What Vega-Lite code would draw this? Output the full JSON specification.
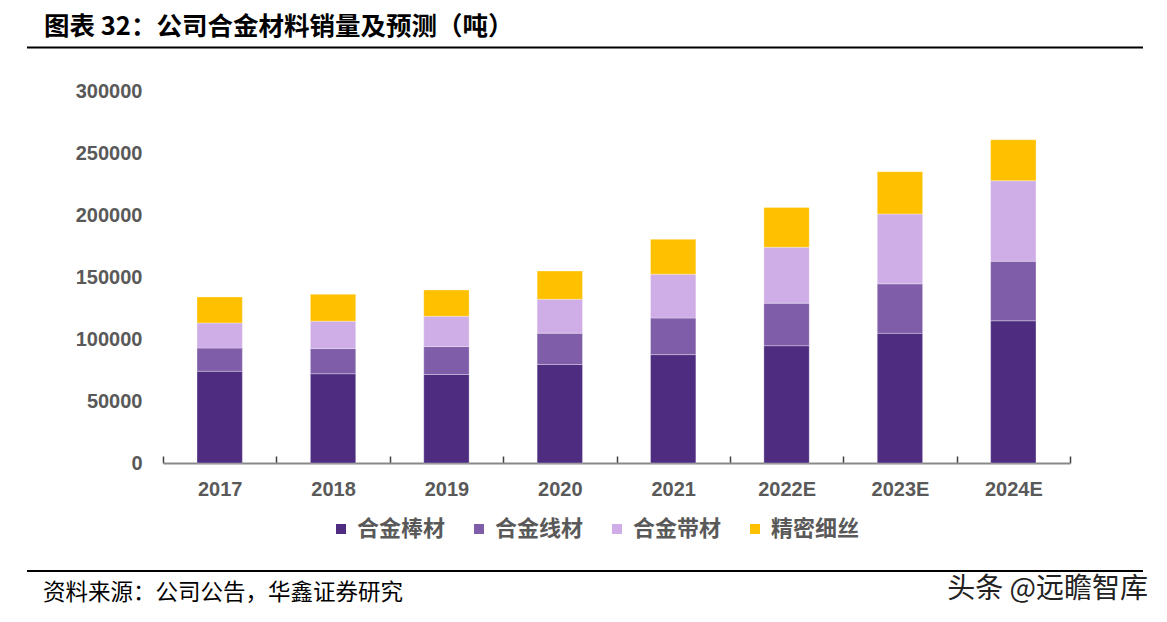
{
  "$schema": "https://vega.github.io/schema/vega-lite/v6.json",
  "autosize": "none",
  "width": 907,
  "height": 372,
  "padding": {"left": 163, "top": 91, "right": 97, "bottom": 159},
  "background": "white",
  "config": {"view": {"stroke": null}},
  "layer": [
    {
      "data": {"values": [
        {"year": "2017", "series": "合金棒材", "idx": 1, "value": 74000},
        {"year": "2017", "series": "合金线材", "idx": 2, "value": 18700},
        {"year": "2017", "series": "合金带材", "idx": 3, "value": 20300},
        {"year": "2017", "series": "精密细丝", "idx": 4, "value": 20900},
        {"year": "2018", "series": "合金棒材", "idx": 1, "value": 72000},
        {"year": "2018", "series": "合金线材", "idx": 2, "value": 20300},
        {"year": "2018", "series": "合金带材", "idx": 3, "value": 22100},
        {"year": "2018", "series": "精密细丝", "idx": 4, "value": 21700},
        {"year": "2019", "series": "合金棒材", "idx": 1, "value": 71400},
        {"year": "2019", "series": "合金线材", "idx": 2, "value": 22500},
        {"year": "2019", "series": "合金带材", "idx": 3, "value": 24500},
        {"year": "2019", "series": "精密细丝", "idx": 4, "value": 21100},
        {"year": "2020", "series": "合金棒材", "idx": 1, "value": 79500},
        {"year": "2020", "series": "合金线材", "idx": 2, "value": 25200},
        {"year": "2020", "series": "合金带材", "idx": 3, "value": 27400},
        {"year": "2020", "series": "精密细丝", "idx": 4, "value": 22700},
        {"year": "2021", "series": "合金棒材", "idx": 1, "value": 87400},
        {"year": "2021", "series": "合金线材", "idx": 2, "value": 29500},
        {"year": "2021", "series": "合金带材", "idx": 3, "value": 35400},
        {"year": "2021", "series": "精密细丝", "idx": 4, "value": 28100},
        {"year": "2022E", "series": "合金棒材", "idx": 1, "value": 94600},
        {"year": "2022E", "series": "合金线材", "idx": 2, "value": 34300},
        {"year": "2022E", "series": "合金带材", "idx": 3, "value": 45100},
        {"year": "2022E", "series": "精密细丝", "idx": 4, "value": 32100},
        {"year": "2023E", "series": "合金棒材", "idx": 1, "value": 104600},
        {"year": "2023E", "series": "合金线材", "idx": 2, "value": 39900},
        {"year": "2023E", "series": "合金带材", "idx": 3, "value": 56300},
        {"year": "2023E", "series": "精密细丝", "idx": 4, "value": 34100},
        {"year": "2024E", "series": "合金棒材", "idx": 1, "value": 114700},
        {"year": "2024E", "series": "合金线材", "idx": 2, "value": 48000},
        {"year": "2024E", "series": "合金带材", "idx": 3, "value": 64900},
        {"year": "2024E", "series": "精密细丝", "idx": 4, "value": 33000}
      ]},
      "mark": {"type": "bar", "width": {"band": 0.4}, "stroke": "#ffffff", "strokeWidth": 0.5, "strokeOpacity": 0.6},
      "encoding": {
        "x": {
          "field": "year", "type": "nominal", "sort": null,
          "scale": {"paddingInner": 0, "paddingOuter": 0},
          "axis": {
            "title": null, "labelAngle": 0, "tickBand": "extent",
            "domainColor": "#898989", "domainWidth": 2,
            "tickColor": "#404040", "tickWidth": 1.5, "tickSize": -7,
            "labelPadding": 23, "labelFont": "Liberation Sans", "labelFontSize": 20,
            "labelFontWeight": "bold", "labelColor": "#595959", "grid": false
          }
        },
        "y": {
          "aggregate": "sum", "field": "value", "type": "quantitative", "stack": "zero",
          "scale": {"domain": [0, 300000], "nice": false},
          "axis": {
            "title": null, "values": [0, 50000, 100000, 150000, 200000, 250000, 300000],
            "format": "d", "grid": false, "domain": false, "ticks": false,
            "labelPadding": 21, "labelFont": "Liberation Sans", "labelFontSize": 20,
            "labelFontWeight": "bold", "labelColor": "#595959"
          }
        },
        "color": {
          "field": "series", "type": "nominal",
          "scale": {
            "domain": ["合金棒材", "合金线材", "合金带材", "精密细丝"],
            "range": ["#4E2D80", "#7F5DA8", "#CFADE6", "#FFC000"]
          },
          "legend": {
            "title": null, "orient": "none", "legendX": 167, "legendY": 427,
            "direction": "horizontal", "columns": 4, "columnPadding": 22,
            "symbolType": "square", "symbolSize": 100, "symbolStrokeWidth": 0,
            "labelOffset": 5, "labelFont": "Noto Sans CJK SC", "labelFontSize": 22,
            "labelFontWeight": "bold", "labelColor": "#595959", "labelLimit": 0
          }
        },
        "order": {"field": "idx", "type": "quantitative", "sort": "ascending"}
      }
    },
    {
      "data": {"values": [{"label": "图表 32：公司合金材料销量及预测（吨）"}]},
      "mark": {"type": "text", "align": "left", "baseline": "middle", "font": "Noto Sans CJK SC", "fontSize": 25.5, "fontWeight": "bold", "color": "#000000"},
      "encoding": {"text": {"field": "label"}, "x": {"value": -119}, "y": {"value": -64}}
    },
    {
      "data": {"values": [{"label": "资料来源：公司公告，华鑫证券研究"}]},
      "mark": {"type": "text", "align": "left", "baseline": "middle", "font": "Noto Sans CJK SC", "fontSize": 22.5, "color": "#000000"},
      "encoding": {"text": {"field": "label"}, "x": {"value": -120}, "y": {"value": 502}}
    },
    {
      "data": {"values": [{"label": "头条 @远瞻智库"}]},
      "mark": {"type": "text", "align": "right", "baseline": "middle", "font": "Noto Sans CJK SC", "fontSize": 28, "color": "#222222"},
      "encoding": {"text": {"field": "label"}, "x": {"value": 985}, "y": {"value": 499}}
    },
    {
      "data": {"values": [{"pos": "top"}]},
      "mark": {"type": "rule", "color": "#000000", "strokeWidth": 2},
      "encoding": {"x": {"value": -136}, "x2": {"value": 980}, "y": {"value": -43.5}}
    },
    {
      "data": {"values": [{"pos": "bottom"}]},
      "mark": {"type": "rule", "color": "#000000", "strokeWidth": 2},
      "encoding": {"x": {"value": -136}, "x2": {"value": 980}, "y": {"value": 480}}
    }
  ]
}
